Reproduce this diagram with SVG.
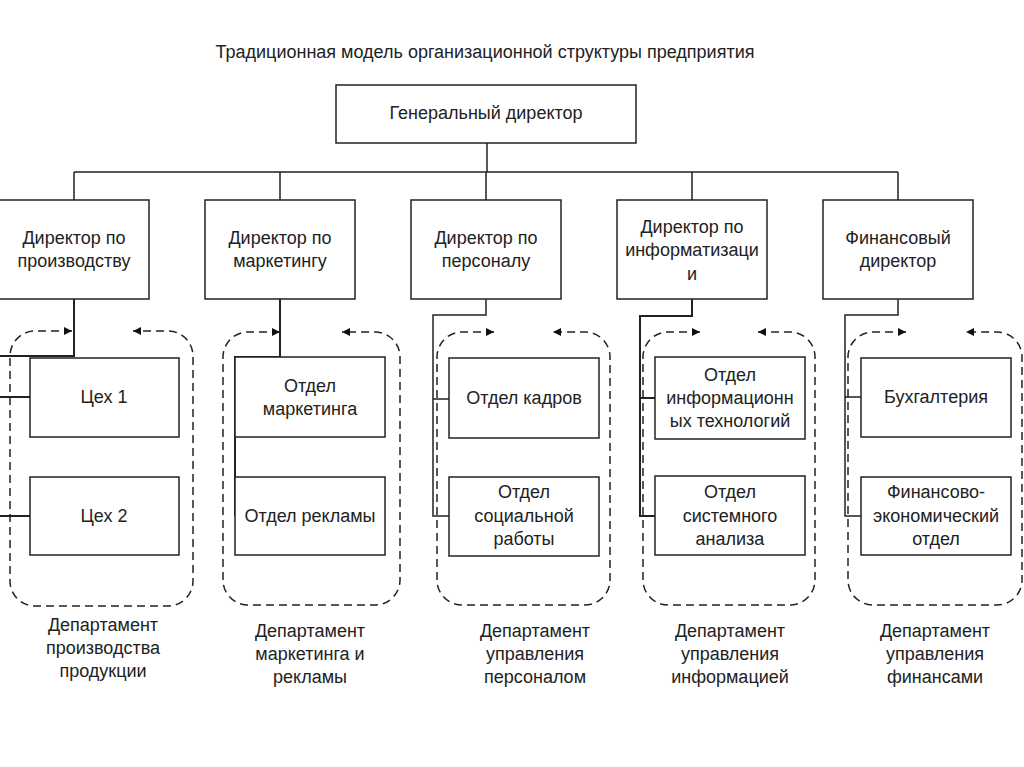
<svg xmlns="http://www.w3.org/2000/svg" width="1024" height="767" viewBox="0 0 1024 767">
<style>
text{font-family:"Liberation Sans",Arial,sans-serif;font-size:18px;fill:#222;text-anchor:middle;dominant-baseline:central}
.title{font-size:18px}
.box{fill:#fff;stroke:#222;stroke-width:1.5}
.ln{fill:none;stroke:#222;stroke-width:1.5}
.thick{stroke-width:2}
.dash{fill:none;stroke:#222;stroke-width:1.5;stroke-dasharray:8 5;marker-start:url(#ah);marker-end:url(#ah)}
</style>
<defs>
<marker id="ah" viewBox="0 0 10 10" refX="10" refY="5" markerWidth="10" markerHeight="8" markerUnits="userSpaceOnUse" orient="auto-start-reverse">
<path d="M0,0 L10,5 L0,10 z" fill="#111"/>
</marker>
</defs>
<rect width="1024" height="767" fill="#fff"/>
<text class="title" x="485" y="52">Традиционная модель организационной структуры предприятия</text>

<g id="connectors">
<path class="ln" d="M487,143 V172 M74,172 H898 M74,172 V200 M280,172 V200 M486,172 V200 M692,172 V200 M898,172 V200"/>
<path class="ln thick" d="M74,299 V356 H-3 V516 M-3,397 H30 M-3,516 H30"/>
<path class="ln thick" d="M280,299 V357 H235 V516"/>
<path class="ln" d="M486,299 V315 H433 V516 H449 M433,399 H449"/>
<path class="ln thick" d="M692,299 V316 H640 V516 H655 M640,398 H655"/>
<path class="ln" d="M898,299 V315 H845 V516 H861 M845,397 H861"/>
<path class="dash" d="M72,331 H35 A25,25 0 0 0 10,356 V581 A25,25 0 0 0 35,606 H168 A25,25 0 0 0 193,581 V356 A25,25 0 0 0 168,331 H133"/>
<path class="dash" d="M280,332 H248 A25,25 0 0 0 223,357 V580 A25,25 0 0 0 248,605 H375 A25,25 0 0 0 400,580 V357 A25,25 0 0 0 375,332 H342"/>
<path class="dash" d="M494,332 H462 A25,25 0 0 0 437,357 V580 A25,25 0 0 0 462,605 H585 A25,25 0 0 0 610,580 V357 A25,25 0 0 0 585,332 H553"/>
<path class="dash" d="M700,332 H668 A25,25 0 0 0 643,357 V580 A25,25 0 0 0 668,605 H790 A25,25 0 0 0 815,580 V357 A25,25 0 0 0 790,332 H758"/>
<path class="dash" d="M906,332 H873 A25,25 0 0 0 848,357 V580 A25,25 0 0 0 873,605 H997 A25,25 0 0 0 1022,580 V357 A25,25 0 0 0 997,332 H966"/>
</g>

<g id="ceo"><rect class="box" x="336" y="85" width="300" height="58"/><text x="486" y="113">Генеральный директор</text></g>

<g id="dir-prod"><rect class="box" x="-1" y="200" width="150" height="99"/><text x="74" y="238">Директор по</text><text x="74" y="261">производству</text></g>
<g id="dir-mark"><rect class="box" x="205" y="200" width="150" height="99"/><text x="280" y="238">Директор по</text><text x="280" y="261">маркетингу</text></g>
<g id="dir-pers"><rect class="box" x="411" y="200" width="150" height="99"/><text x="486" y="238">Директор по</text><text x="486" y="261">персоналу</text></g>
<g id="dir-inf"><rect class="box" x="617" y="200" width="150" height="99"/><text x="692" y="227">Директор по</text><text x="692" y="250">информатизаци</text><text x="692" y="274">и</text></g>
<g id="dir-fin"><rect class="box" x="823" y="200" width="150" height="99"/><text x="898" y="238">Финансовый</text><text x="898" y="261">директор</text></g>

<g id="ceh1"><rect class="box" x="30" y="358" width="149" height="79"/><text x="104" y="397">Цех 1</text></g>
<g id="ceh2"><rect class="box" x="30" y="477" width="149" height="78"/><text x="104" y="516">Цех 2</text></g>
<g id="otd-mark"><rect class="box" x="235" y="357" width="150" height="80"/><text x="310" y="386">Отдел</text><text x="310" y="409">маркетинга</text></g>
<g id="otd-rekl"><rect class="box" x="235" y="477" width="150" height="78"/><text x="310" y="516">Отдел рекламы</text></g>
<g id="otd-kadr"><rect class="box" x="449" y="358" width="150" height="80"/><text x="524" y="398">Отдел кадров</text></g>
<g id="otd-soc"><rect class="box" x="449" y="477" width="150" height="79"/><text x="524" y="492">Отдел</text><text x="524" y="516">социальной</text><text x="524" y="539">работы</text></g>
<g id="otd-it"><rect class="box" x="655" y="357" width="150" height="82"/><text x="730" y="375">Отдел</text><text x="730" y="398">информационн</text><text x="730" y="421">ых технологий</text></g>
<g id="otd-sys"><rect class="box" x="655" y="476" width="150" height="79"/><text x="730" y="492">Отдел</text><text x="730" y="516">системного</text><text x="730" y="539">анализа</text></g>
<g id="buh"><rect class="box" x="861" y="358" width="150" height="79"/><text x="936" y="397">Бухгалтерия</text></g>
<g id="fin-ek"><rect class="box" x="861" y="477" width="150" height="78"/><text x="936" y="492">Финансово-</text><text x="936" y="516">экономический</text><text x="936" y="539">отдел</text></g>

<g id="dept-labels">
<text x="103" y="625">Департамент</text><text x="103" y="648">производства</text><text x="103" y="671">продукции</text>
<text x="310" y="631">Департамент</text><text x="310" y="654">маркетинга и</text><text x="310" y="677">рекламы</text>
<text x="535" y="631">Департамент</text><text x="535" y="654">управления</text><text x="535" y="677">персоналом</text>
<text x="730" y="631">Департамент</text><text x="730" y="654">управления</text><text x="730" y="677">информацией</text>
<text x="935" y="631">Департамент</text><text x="935" y="654">управления</text><text x="935" y="677">финансами</text>
</g>
</svg>
